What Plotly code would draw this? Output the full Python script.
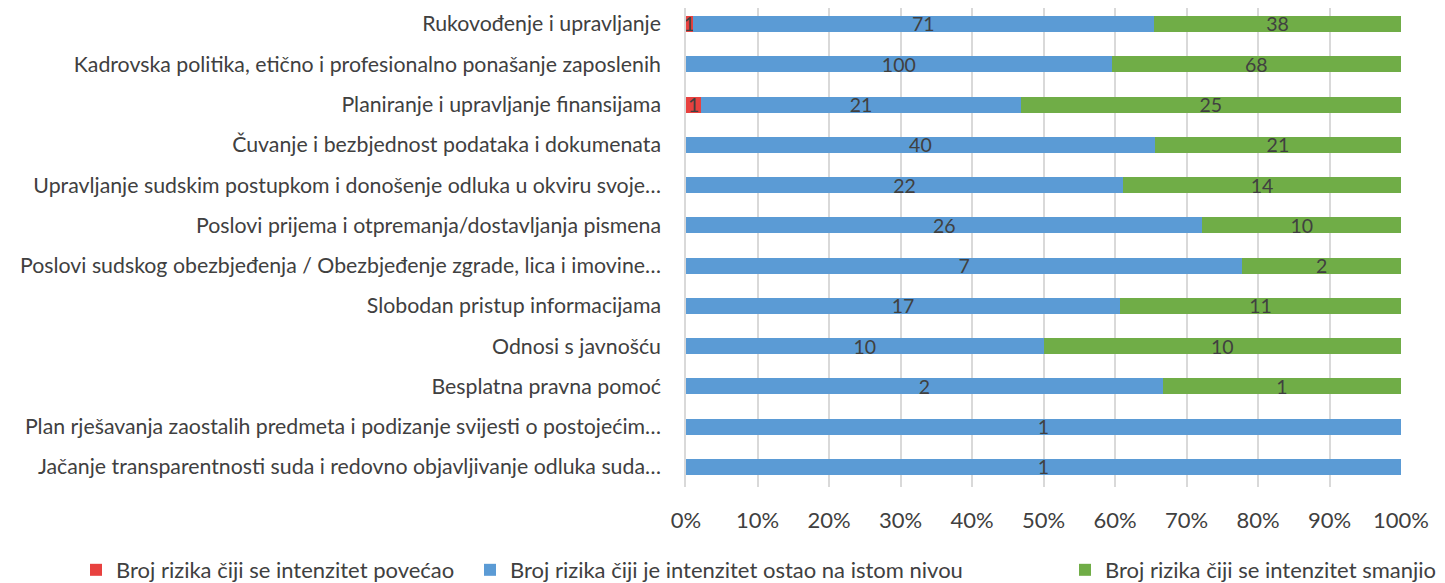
import plotly.graph_objects as go

categories = [
    "Rukovođenje i upravljanje",
    "Kadrovska politika, etično i profesionalno ponašanje zaposlenih",
    "Planiranje i upravljanje finansijama",
    "Čuvanje i bezbjednost podataka i dokumenata",
    "Upravljanje sudskim postupkom i donošenje odluka u okviru svoje…",
    "Poslovi prijema i otpremanja/dostavljanja pismena",
    "Poslovi sudskog obezbjeđenja / Obezbjeđenje zgrade, lica i imovine…",
    "Slobodan pristup informacijama",
    "Odnosi s javnošću",
    "Besplatna pravna pomoć",
    "Plan rješavanja zaostalih predmeta i podizanje svijesti o postojećim…",
    "Jačanje transparentnosti suda i redovno objavljivanje odluka suda…",
]
increased = [1, 0, 1, 0, 0, 0, 0, 0, 0, 0, 0, 0]
same = [71, 100, 21, 40, 22, 26, 7, 17, 10, 2, 1, 1]
decreased = [38, 68, 25, 21, 14, 10, 2, 11, 10, 1, 0, 0]

series_names = [
    "Broj rizika čiji se intenzitet povećao",
    "Broj rizika čiji je intenzitet ostao na istom nivou",
    "Broj rizika čiji se intenzitet smanjio",
]
colors = ["#E8413F", "#5B9BD5", "#70AD47"]
tick_vals = [0, 10, 20, 30, 40, 50, 60, 70, 80, 90, 100]
tick_text = ["0%", "10%", "20%", "30%", "40%", "50%", "60%", "70%", "80%", "90%", "100%"]

FONT = "Lato"
FS = 22
legend_ids = ["legend", "legend2", "legend3"]
legend_x = [68, 462, 1057]

fig = go.Figure()
for name, vals, col, lid in zip(series_names, [increased, same, decreased], colors, legend_ids):
    fig.add_trace(go.Bar(
        y=categories, x=vals, name=name, orientation="h",
        marker=dict(color=col, line=dict(width=0)),
        text=[str(v) if v else "" for v in vals],
        textposition="inside", insidetextanchor="middle", textangle=0,
        textfont=dict(color="#404040", size=19.5, family=FONT),
        constraintext="none", cliponaxis=False,
        legend=lid,
    ))

legend_common = dict(orientation="h", xref="container", yref="container",
                     y=0.036, yanchor="middle", xanchor="left",
                     font=dict(size=FS, color="#404040", family=FONT),
                     bgcolor="rgba(0,0,0,0)")
layout_legends = {}
for lid, lx in zip(legend_ids, legend_x):
    layout_legends[lid] = dict(legend_common, x=lx / 1445)

fig.update_layout(
    barmode="stack", barnorm="percent", bargap=0.603,
    width=1445, height=583,
    margin=dict(l=678, r=52, t=0, b=104, autoexpand=False),
    paper_bgcolor="white", plot_bgcolor="white",
    font=dict(family=FONT, size=FS, color="#404040"),
    uniformtext=dict(minsize=19, mode="show"),
    showlegend=True,
    **layout_legends,
)
fig.update_xaxes(range=[0, 100], tickvals=tick_vals, ticktext=tick_text,
                 showgrid=True, gridcolor="#D9D9D9", gridwidth=1.5,
                 zeroline=False, showline=False, ticks="", automargin=False,
                 ticklabelstandoff=18, tickfont=dict(size=FS, color="#404040"))
fig.update_yaxes(range=[11.497, -0.397], categoryorder="array", categoryarray=categories,
                 showline=True, linecolor="#D9D9D9", linewidth=1.5, automargin=False,
                 ticks="", ticklabelstandoff=19, tickfont=dict(size=21.3, color="#404040"))

fig.write_html("out.html")
